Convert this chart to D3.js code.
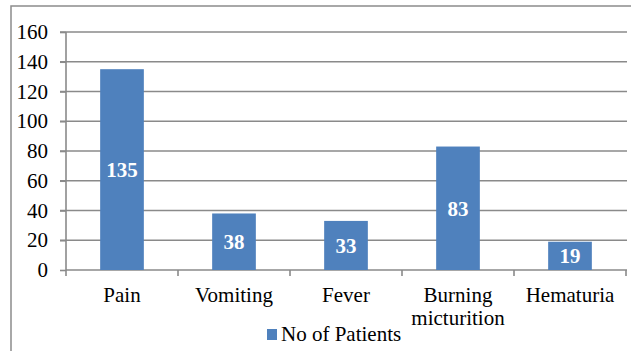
<!DOCTYPE html>
<html><head><meta charset="utf-8">
<script src="https://cdn.jsdelivr.net/npm/d3@7"></script>
<style>body{margin:0;background:#fff}svg{display:block}</style>
</head><body>
<svg id="c" width="631" height="351"></svg>
<script>
const categories = ["Pain", "Vomiting", "Fever", "Burning micturition", "Hematuria"];
const values = [135, 38, 33, 83, 19];
const yTicks = [0, 20, 40, 60, 80, 100, 120, 140, 160];
const seriesName = "No of Patients";

(function() {
const FONT = '"Liberation Serif", serif';
const svg = d3.select("#c").style("font-family", FONT);
const pLeft = 66, pRight = 626, pTop = 32, pBottom = 270;
const color = "#4F81BD", gridColor = "#8a8a8a";

svg.append("rect").attr("x", 11).attr("y", 6).attr("width", 640).attr("height", 360)
  .attr("fill", "none").attr("stroke", "#8c8c8c").attr("stroke-width", 1.5);

const x = d3.scaleBand().domain(categories).range([pLeft, pRight]).paddingInner(0.61).paddingOuter(0.305);
const y = d3.scaleLinear().domain([0, 160]).range([pBottom, pTop]);

// gridlines
svg.append("g").selectAll("line").data(yTicks.filter(d => d > 0)).join("line")
  .attr("x1", pLeft - 6).attr("x2", pRight + 1).attr("y1", d => y(d)).attr("y2", d => y(d))
  .attr("stroke", gridColor).attr("stroke-width", 1.6);

// y axis
const yAxis = svg.append("g").attr("transform", `translate(${pLeft},0)`)
  .call(d3.axisLeft(y).tickValues(yTicks).tickSize(6).tickPadding(12));
yAxis.attr("font-family", null).attr("font-size", null);
yAxis.select(".domain").attr("stroke", gridColor).attr("stroke-width", 1.6).attr("d", `M0,${pTop}V${pBottom}`);
yAxis.selectAll(".tick line").attr("stroke", gridColor).attr("stroke-width", 1.6);
yAxis.selectAll(".tick text").style("font-size", "21px").style("font-family", FONT).attr("fill", "#000");

// x axis
const bounds = d3.range(categories.length + 1).map(i => pLeft + i * (pRight - pLeft) / categories.length);
svg.append("line").attr("x1", pLeft).attr("x2", pRight + 1).attr("y1", pBottom).attr("y2", pBottom)
  .attr("stroke", gridColor).attr("stroke-width", 1.6);
svg.append("g").selectAll("line").data(bounds).join("line")
  .attr("x1", d => d).attr("x2", d => d).attr("y1", pBottom).attr("y2", pBottom + 6)
  .attr("stroke", gridColor).attr("stroke-width", 1.6);

// bars
svg.append("g").selectAll("rect").data(values).join("rect")
  .attr("x", (d, i) => x(categories[i])).attr("width", x.bandwidth())
  .attr("y", d => y(d)).attr("height", d => pBottom - y(d)).attr("fill", color);

// value labels
svg.append("g").selectAll("text").data(values).join("text")
  .attr("x", (d, i) => x(categories[i]) + x.bandwidth() / 2)
  .attr("y", d => (y(d) + pBottom) / 2 + 7.5)
  .attr("text-anchor", "middle").attr("fill", "#fff")
  .style("font-weight", "bold").style("font-size", "21px").style("font-family", FONT).text(d => d);

// category labels
const labelLines = categories.map(c => c === "Burning micturition" ? ["Burning", "micturition"] : [c]);
const cl = svg.append("g").selectAll("text").data(categories).join("text")
  .attr("x", d => x(d) + x.bandwidth() / 2).attr("y", 302)
  .attr("text-anchor", "middle").style("font-size", "21px").style("font-family", FONT).attr("fill", "#000");
cl.each(function(d, i) {
  d3.select(this).selectAll("tspan").data(labelLines[i]).join("tspan")
    .attr("x", x(d) + x.bandwidth() / 2).attr("dy", (t, j) => j === 0 ? 0 : 23).text(t => t);
});

// legend
svg.append("rect").attr("x", 267).attr("y", 329).attr("width", 10).attr("height", 11).attr("fill", color);
svg.append("text").attr("x", 281).attr("y", 341).style("font-size", "21px").style("font-family", FONT)
  .attr("fill", "#000").text(seriesName);
})();
</script>
</body></html>
